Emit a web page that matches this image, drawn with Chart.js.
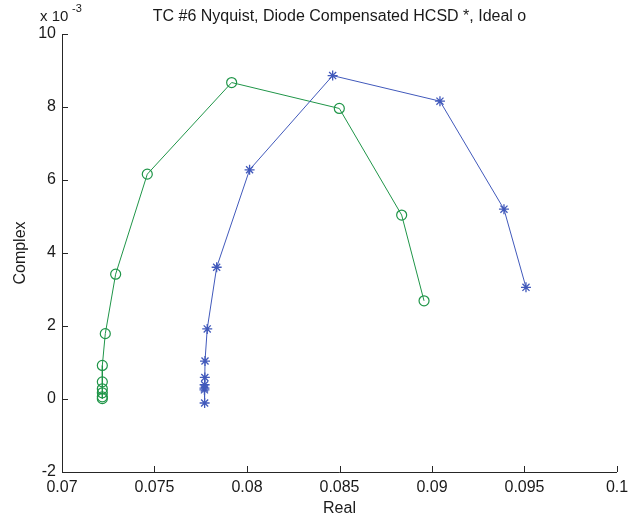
<!DOCTYPE html>
<html>
<head>
<meta charset="UTF-8">
<title>TC #6 Nyquist</title>
<script src="https://cdn.jsdelivr.net/npm/chart.js"></script>
<style>
    body { margin: 0; background: #fff; }
    #plot { display: block; }
</style>
</head>
<body>
<canvas id="plot" width="637" height="529"></canvas>
<script>
// imaginary part is plotted in units of 1e-3 (axis multiplier "x 10^-3")
const realDiode = [0.09508, 0.09389, 0.09043, 0.08463, 0.08014, 0.07836, 0.07785, 0.07773, 0.07772, 0.07771, 0.07770, 0.07770, 0.07771];
const imagDiode = [3.06, 5.20, 8.16, 8.86, 6.28, 3.61, 1.92, 1.04, 0.59, 0.39, 0.30, 0.25, -0.11];
const realIdeal = [0.08957, 0.08836, 0.08499, 0.07917, 0.07461, 0.07290, 0.07234, 0.07218, 0.07218, 0.07218, 0.07218, 0.07218, 0.07218];
const imagIdeal = [2.69, 5.04, 7.96, 8.67, 6.16, 3.42, 1.79, 0.92, 0.47, 0.28, 0.17, 0.06, 0.01];

const xTicks = [0.07, 0.075, 0.08, 0.085, 0.09, 0.095, 0.1];
const xTickLabels = ['0.07', '0.075', '0.08', '0.085', '0.09', '0.095', '0.1'];
const yTicks = [-2, 0, 2, 4, 6, 8, 10];
const yTickLabels = ['-2', '0', '2', '4', '6', '8', '10'];

const FONT = '"Liberation Sans", Arial, sans-serif';
const TXT = '#1a1a1a';

function pts(xs, ys) { return xs.map((x, i) => ({ x: x, y: ys[i] })); }

// axes lines, inward ticks, title and axis labels like matlab
const matlabAxes = {
    id: 'matlabAxes',
    afterDraw(chart) {
        const ctx = chart.ctx, a = chart.chartArea;
        const xs = chart.scales.x, ys = chart.scales.y;
        ctx.save();
        ctx.strokeStyle = '#262626';
        ctx.lineWidth = 1;
        ctx.beginPath();
        ctx.moveTo(a.left + 0.5, a.top);
        ctx.lineTo(a.left + 0.5, a.bottom + 0.5);
        ctx.lineTo(a.right, a.bottom + 0.5);
        xTicks.forEach(v => {
            const px = Math.round(xs.getPixelForValue(v)) + 0.5;
            ctx.moveTo(px, a.bottom);
            ctx.lineTo(px, a.bottom - 6);
        });
        yTicks.forEach(v => {
            const py = Math.round(ys.getPixelForValue(v)) + 0.5;
            ctx.moveTo(a.left, py);
            ctx.lineTo(a.left + 6, py);
        });
        ctx.stroke();

        ctx.fillStyle = TXT;
        ctx.font = '16px ' + FONT;
        ctx.textAlign = 'center';
        ctx.textBaseline = 'middle';
        ctx.fillText('TC #6 Nyquist, Diode Compensated HCSD *, Ideal o', (a.left + a.right) / 2, 17);
        ctx.fillText('Real', (a.left + a.right) / 2, 509);

        ctx.save();
        ctx.translate(21, (a.top + a.bottom) / 2);
        ctx.rotate(-Math.PI / 2);
        ctx.fillText('Complex', 0, 0);
        ctx.restore();

        // exponent label
        ctx.textAlign = 'left';
        ctx.font = '15px ' + FONT;
        ctx.fillText('x 10', 40, 17);
        ctx.font = '11px ' + FONT;
        ctx.fillText('-3', 72, 9);
        ctx.restore();
    }
};

new Chart(document.getElementById('plot').getContext('2d'), {
    type: 'scatter',
    data: {
        datasets: [
            {
                label: 'Diode Compensated HCSD',
                data: pts(realDiode, imagDiode),
                showLine: true,
                borderColor: '#4159bb',
                backgroundColor: '#4159bb',
                borderWidth: 1,
                pointStyle: 'star',
                pointRadius: 5,
                pointBorderWidth: 1.3
            },
            {
                label: 'Ideal',
                data: pts(realIdeal, imagIdeal),
                showLine: true,
                borderColor: '#1f9548',
                backgroundColor: 'rgba(0,0,0,0)',
                borderWidth: 1,
                pointStyle: 'circle',
                pointRadius: 5,
                pointBorderWidth: 1.2
            }
        ]
    },
    options: {
        responsive: false,
        animation: false,
        layout: { padding: { top: 34, right: 20, left: 0, bottom: 0 } },
        plugins: { legend: { display: false }, tooltip: { enabled: false } },
        scales: {
            x: {
                type: 'linear',
                min: 0.07, max: 0.1,
                grid: { display: false, drawTicks: false },
                border: { display: false },
                afterBuildTicks: axis => { axis.ticks = xTicks.map(v => ({ value: v })); },
                afterFit: axis => { axis.height = 57; },
                ticks: {
                    color: TXT,
                    font: { family: FONT, size: 16 },
                    padding: 6,
                    maxRotation: 0,
                    autoSkip: false,
                    callback: (v, i) => xTickLabels[i]
                }
            },
            y: {
                type: 'linear',
                min: -2, max: 10,
                grid: { display: false, drawTicks: false },
                border: { display: false },
                afterBuildTicks: axis => { axis.ticks = yTicks.map(v => ({ value: v })); },
                afterFit: axis => { axis.width = 62; },
                ticks: {
                    color: TXT,
                    font: { family: FONT, size: 16 },
                    padding: 6,
                    autoSkip: false,
                    callback: (v, i) => yTickLabels[i]
                }
            }
        }
    },
    plugins: [matlabAxes]
});
</script>
</body>
</html>
